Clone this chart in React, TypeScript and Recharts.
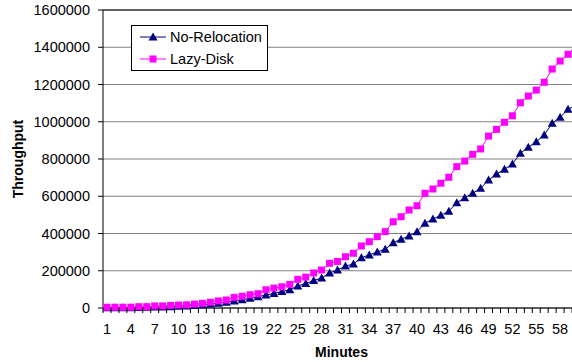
import { LineChart, Line, XAxis, YAxis, CartesianGrid, Legend, ReferenceLine } from 'recharts';

const MINUTES = [
  1, 2, 3, 4, 5, 6, 7, 8, 9, 10, 11, 12, 13, 14, 15, 16, 17, 18, 19, 20,
  21, 22, 23, 24, 25, 26, 27, 28, 29, 30, 31, 32, 33, 34, 35, 36, 37, 38, 39, 40,
  41, 42, 43, 44, 45, 46, 47, 48, 49, 50, 51, 52, 53, 54, 55, 56, 57, 58, 59, 60,
];

const NO_RELOCATION = [
  1000, 1000, 2000, 2000, 3000, 4000, 5000, 6000, 7000, 9000,
  11000, 14000, 17000, 21000, 26000, 31000, 37000, 44000, 52000, 60000,
  70000, 78000, 88000, 98000, 118000, 131000, 148000, 161000, 188000, 204000,
  225000, 236000, 270000, 285000, 301000, 315000, 351000, 369000, 387000, 410000,
  455000, 478000, 498000, 520000, 565000, 592000, 616000, 643000, 687000, 719000,
  745000, 773000, 831000, 863000, 893000, 929000, 992000, 1024000, 1067000, 1090000,
];

const LAZY_DISK = [
  4000, 4000, 4000, 4000, 7000, 7000, 11000, 11000, 14000, 16000,
  17000, 21000, 25000, 31000, 38000, 43000, 57000, 63000, 71000, 77000,
  98000, 107000, 114000, 127000, 154000, 166000, 188000, 204000, 240000, 250000,
  275000, 294000, 333000, 356000, 383000, 410000, 463000, 490000, 526000, 549000,
  616000, 639000, 670000, 702000, 759000, 789000, 825000, 854000, 923000, 959000,
  997000, 1032000, 1102000, 1138000, 1170000, 1212000, 1283000, 1326000, 1362000, 1410000,
];

const X_LABELS = [1, 4, 7, 10, 13, 16, 19, 22, 25, 28, 31, 34, 37, 40, 43, 46, 49, 52, 55, 58];
const Y_TICKS = [0, 200000, 400000, 600000, 800000, 1000000, 1200000, 1400000, 1600000];

const SERIES = [
  { key: 'noRelocation', name: 'No-Relocation', color: '#000080', marker: 'triangle' },
  { key: 'lazyDisk', name: 'Lazy-Disk', color: '#FF00FF', marker: 'square' },
];

const data = MINUTES.map((m, i) => ({
  minute: m,
  noRelocation: NO_RELOCATION[i],
  lazyDisk: LAZY_DISK[i],
}));

// tick marks sit between categories, labels on every third category
const BOUNDARIES = [0, ...MINUTES].map((m) => m + 0.5);
const X_TICKS = [...BOUNDARIES, ...X_LABELS].sort((a, b) => a - b);

const FONT = '"Liberation Sans", Arial, sans-serif';
const TICK_SIZE = 5;
const X_TICK_MARGIN = 11;

function Marker({ type, cx, cy, color }: { type: string; cx: number; cy: number; color: string }) {
  if (type === 'triangle') {
    return (
      <polygon
        points={`${cx},${cy - 4.5} ${cx - 4.5},${cy + 3.5} ${cx + 4.5},${cy + 3.5}`}
        fill={color}
      />
    );
  }
  return <rect x={cx - 3.5} y={cy - 3.5} width={7} height={7} fill={color} />;
}

function XTick(props: any) {
  const { x, y, payload } = props;
  const v = payload.value;
  if (!Number.isInteger(v)) {
    const axisY = y - TICK_SIZE - X_TICK_MARGIN;
    return <line x1={x} x2={x} y1={axisY} y2={axisY + TICK_SIZE} stroke="#000" />;
  }
  return (
    <text x={x} y={y} dy="0.71em" textAnchor="middle" fontSize={14.5} fontFamily={FONT} fill="#000">
      {v}
    </text>
  );
}

function LegendBox() {
  return (
    <div
      style={{
        border: '1px solid #000',
        background: '#fff',
        width: 135,
        height: 44,
        boxSizing: 'content-box',
        fontFamily: FONT,
        fontSize: 14.5,
        paddingTop: 0,
      }}
    >
      {SERIES.map((s, i) => (
        <div key={s.key} style={{ display: 'flex', alignItems: 'center', height: 22, marginTop: i === 0 ? 0 : 0 }}>
          <svg width={38} height={22} style={{ display: 'block' }}>
            <line x1={8} x2={34} y1={11} y2={11} stroke={s.color} />
            <Marker type={s.marker} cx={21} cy={11} color={s.color} />
          </svg>
          <span style={{ color: '#000', lineHeight: '22px' }}>{s.name}</span>
        </div>
      ))}
    </div>
  );
}

export default function App() {
  return (
    <div
      style={{
        position: 'absolute',
        left: 0,
        top: 0,
        width: 572,
        height: 362,
        overflow: 'hidden',
        background: '#fff',
      }}
    >
      <LineChart width={600} height={362} data={data} margin={{ top: 10, right: 20, bottom: 0, left: 0 }}>
        <CartesianGrid horizontal vertical={false} stroke="#808080" />
        <ReferenceLine y={1600000} stroke="#404040" strokeWidth={1.5} />
        <XAxis
          dataKey="minute"
          type="number"
          domain={[0.5, 60.5]}
          ticks={X_TICKS}
          interval={0}
          height={54}
          tickSize={TICK_SIZE}
          tickMargin={X_TICK_MARGIN}
          tickLine={{ stroke: 'none' }}
          axisLine={{ stroke: '#000' }}
          tick={<XTick />}
          label={{
            content: ({ viewBox }: any) => (
              <text
                x={viewBox.x + viewBox.width / 2}
                y={viewBox.y + 44}
                textAnchor="middle"
                dominantBaseline="central"
                fontSize={14}
                fontWeight="bold"
                fontFamily={FONT}
                fill="#000"
              >
                Minutes
              </text>
            ),
          }}
        />
        <YAxis
          type="number"
          domain={[0, 1600000]}
          ticks={Y_TICKS}
          interval={0}
          width={103}
          tickSize={TICK_SIZE}
          tickMargin={8}
          tickLine={{ stroke: '#000' }}
          axisLine={{ stroke: '#000' }}
          tick={{ fontSize: 14.5, fontFamily: FONT, fill: '#000' }}
          label={{
            content: ({ viewBox }: any) => {
              const x = viewBox.x + 18;
              const y = viewBox.y + viewBox.height / 2;
              return (
                <text
                  x={x}
                  y={y}
                  transform={`rotate(-90, ${x}, ${y})`}
                  textAnchor="middle"
                  dominantBaseline="central"
                  fontSize={14}
                  fontWeight="bold"
                  fontFamily={FONT}
                  fill="#000"
                >
                  Throughput
                </text>
              );
            },
          }}
        />
        <Legend
          layout="horizontal"
          verticalAlign="middle"
          align="center"
          content={() => <LegendBox />}
          wrapperStyle={{ left: 131, top: 25, width: 'auto', height: 'auto' }}
        />
        {SERIES.map((s) => (
          <Line
            key={s.key}
            dataKey={s.key}
            name={s.name}
            stroke={s.color}
            strokeWidth={1}
            isAnimationActive={false}
            dot={(p: any) => (
              <Marker key={`${s.key}-${p.index}`} type={s.marker} cx={p.cx} cy={p.cy} color={s.color} />
            )}
            activeDot={false}
          />
        ))}
      </LineChart>
    </div>
  );
}
